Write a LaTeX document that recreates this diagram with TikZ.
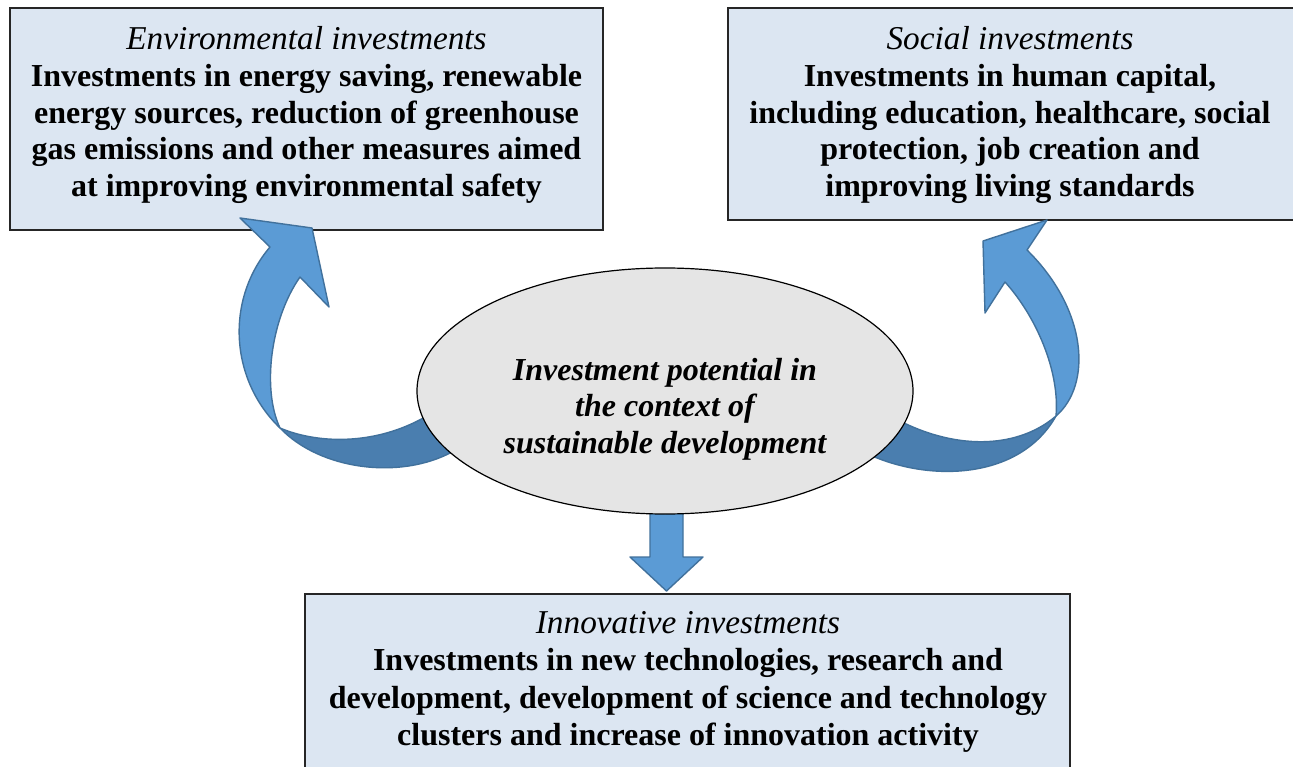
\documentclass[tikz,border=0pt]{standalone}
\usepackage{fontspec}
\setmainfont{Liberation Serif}
\usetikzlibrary{shapes.geometric}
\definecolor{boxfill}{HTML}{DCE6F2}
\definecolor{arrowlight}{HTML}{5B9BD5}
\definecolor{arrowdark}{HTML}{4A7EAF}
\definecolor{arrowedge}{HTML}{41719C}
\definecolor{ellfill}{HTML}{E5E5E5}
\newcommand{\boxtitle}[1]{{\fontsize{33.3}{36.8}\selectfont\mdseries\itshape #1}}
\tikzset{
  infobox/.style={draw=black!85, line width=1.3pt, fill=boxfill, rectangle, inner sep=0pt},
  boxtext/.style={align=center, inner sep=0pt, font=\fontsize{32}{36.8}\selectfont\bfseries},
  frontband/.style={fill=arrowlight, draw=arrowedge, line width=1.4pt, line join=round},
  backband/.style={fill=arrowdark, draw=arrowedge, line width=1.4pt, line join=round},
  hub/.style={ellipse, draw=black, line width=1.2pt, fill=ellfill, minimum width=496pt, minimum height=246pt, inner sep=0pt},
}
\begin{document}
\begin{tikzpicture}[x=1pt, y=-1pt]
\clip (0,0) rectangle (1293,767);
\fill[white] (0,0) rectangle (1293,767);

% boxes
\node[infobox, minimum width=593pt, minimum height=222pt] (env) at (306.5,119) {};
\node[infobox, minimum width=575pt, minimum height=212pt] (soc) at (1015.5,114) {};
\node[infobox, minimum width=765pt, minimum height=200pt] (inn) at (687.5,694) {};

\node[boxtext] (envt) at (306.5,115) {\boxtitle{Environmental investments}\\
Investments in energy saving, renewable\\
energy sources, reduction of greenhouse\\
gas emissions and other measures aimed\\
at improving environmental safety};

\node[boxtext] (soct) at (1010,115) {\boxtitle{Social investments}\\
Investments in human capital,\\
including education, healthcare, social\\
protection, job creation and\\
improving living standards};

\node[boxtext, font=\fontsize{32}{37.3}\selectfont\bfseries] (innt) at (688,682) {\boxtitle{Innovative investments}\\
Investments in new technologies, research and\\
development, development of science and technology\\
clusters and increase of innovation activity};

% left curved arrow
\filldraw[backband] (280,428) .. controls (320,445) and (380,445) .. (430,414)
  -- (452,452) .. controls (400,480) and (320,470) .. (280,428) -- cycle;
\filldraw[frontband] (280,428) .. controls (230,380) and (225,300) .. (270,247)
  -- (240,218) -- (312,228) -- (329,307) -- (300,277)
  .. controls (270,320) and (262,390) .. (280,428) -- cycle;

% right curved arrow
\filldraw[backband] (1056,416) .. controls (1020,447) and (960,452) .. (898,420)
  -- (870,455) .. controls (930,482) and (1020,480) .. (1056,416) -- cycle;
\filldraw[frontband] (1056,416) .. controls (1092,385) and (1088,310) .. (1027,250)
  -- (1047,220) -- (983,241) -- (985,313) -- (1005,282)
  .. controls (1035,315) and (1060,370) .. (1056,416) -- cycle;

% down arrow
\filldraw[frontband] (650,500) -- (683,500) -- (683,557) -- (703,557) -- (666.5,591)
  -- (630,557) -- (650,557) -- cycle;

% hub
\node[hub] (hubn) at (665,391) {};
\node[align=center, inner sep=0pt, font=\fontsize{32}{36.6}\selectfont\bfseries\itshape] (hubt) at (665,409)
  {Investment potential in\\ the context of\\ sustainable development};
\end{tikzpicture}
\end{document}
